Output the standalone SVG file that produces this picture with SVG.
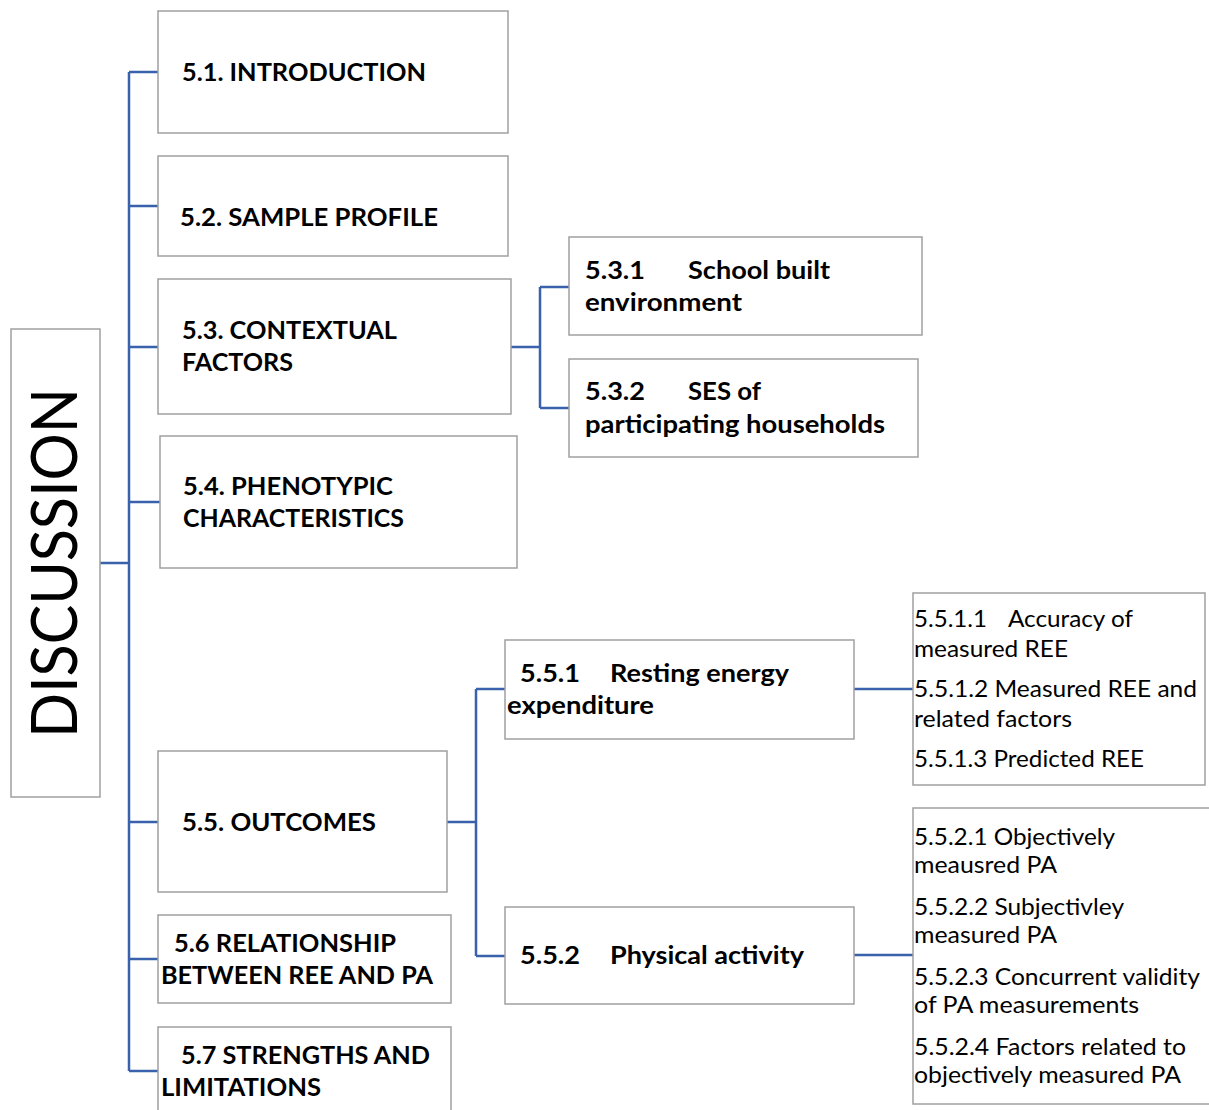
<svg xmlns="http://www.w3.org/2000/svg" width="1209" height="1110" viewBox="0 0 1209 1110">
<style>
.box{fill:#fff;stroke:#a0a0a0;stroke-width:1.5}
.b{font-family:Lato,"Open Sans","Liberation Sans",sans-serif;font-weight:bold;font-size:25px;fill:#000}
.r{font-family:Lato,"Open Sans","Liberation Sans",sans-serif;font-size:23px;fill:#000}
.c{fill:none;stroke:#3a62ac;stroke-width:2.5}
</style>
<rect width="1209" height="1110" fill="#fff"/>
<g id="connectors">
<path class="c" d="M129,72 V1071 M100,563 H129 M129,72 H158 M129,206 H158 M129,347 H158 M129,502 H160 M129,822 H158 M129,959 H158 M129,1071 H158"/>
<path class="c" d="M511,347 H540 M540,287 V408 M540,287 H569 M540,408 H569"/>
<path class="c" d="M447,822 H476 M476,689 V956 M476,689 H505 M476,956 H505"/>
<path class="c" d="M854,689 H913 M854,955 H913"/>
</g>
<g id="discussion">
<rect class="box" x="11" y="329" width="89" height="468"/>
<text transform="translate(77,563) rotate(-90)" text-anchor="middle" font-family="Lato,'Liberation Sans',sans-serif" font-weight="normal" font-size="64" textLength="350" lengthAdjust="spacingAndGlyphs">DISCUSSION</text>
</g>
<g id="n51">
<rect class="box" x="158" y="11" width="350" height="122"/>
<text class="b" x="182" y="81" textLength="244" lengthAdjust="spacingAndGlyphs">5.1. INTRODUCTION</text>
</g>
<g id="n52">
<rect class="box" x="158" y="156" width="350" height="100"/>
<text class="b" x="180" y="226" textLength="258" lengthAdjust="spacingAndGlyphs">5.2. SAMPLE PROFILE</text>
</g>
<g id="n53">
<rect class="box" x="158" y="279" width="353" height="135"/>
<text class="b" x="182" y="339" textLength="215" lengthAdjust="spacingAndGlyphs">5.3. CONTEXTUAL</text>
<text class="b" x="182" y="371" textLength="111" lengthAdjust="spacingAndGlyphs">FACTORS</text>
</g>
<g id="n54">
<rect class="box" x="160" y="436" width="357" height="132"/>
<text class="b" x="183" y="495" textLength="210" lengthAdjust="spacingAndGlyphs">5.4. PHENOTYPIC</text>
<text class="b" x="183" y="527" textLength="221" lengthAdjust="spacingAndGlyphs">CHARACTERISTICS</text>
</g>
<g id="n55">
<rect class="box" x="158" y="751" width="289" height="141"/>
<text class="b" x="182" y="831" textLength="194" lengthAdjust="spacingAndGlyphs">5.5. OUTCOMES</text>
</g>
<g id="n56">
<rect class="box" x="158" y="915" width="293" height="88"/>
<text class="b" x="174" y="952" textLength="222" lengthAdjust="spacingAndGlyphs">5.6 RELATIONSHIP</text>
<text class="b" x="161" y="984" textLength="272" lengthAdjust="spacingAndGlyphs">BETWEEN REE AND PA</text>
</g>
<g id="n57">
<rect class="box" x="158" y="1027" width="293" height="100"/>
<text class="b" x="181" y="1064" textLength="249" lengthAdjust="spacingAndGlyphs">5.7 STRENGTHS AND</text>
<text class="b" x="161" y="1096" textLength="160" lengthAdjust="spacingAndGlyphs">LIMITATIONS</text>
</g>
<g id="n531">
<rect class="box" x="569" y="237" width="353" height="98"/>
<text class="b" x="585" y="279" textLength="60" lengthAdjust="spacingAndGlyphs">5.3.1</text>
<text class="b" x="688" y="279" textLength="142" lengthAdjust="spacingAndGlyphs">School built</text>
<text class="b" x="585" y="311" textLength="157" lengthAdjust="spacingAndGlyphs">environment</text>
</g>
<g id="n532">
<rect class="box" x="569" y="359" width="349" height="98"/>
<text class="b" x="585" y="400" textLength="60" lengthAdjust="spacingAndGlyphs">5.3.2</text>
<text class="b" x="688" y="400" textLength="73" lengthAdjust="spacingAndGlyphs">SES of</text>
<text class="b" x="585" y="433" textLength="300" lengthAdjust="spacingAndGlyphs">participating households</text>
</g>
<g id="n551">
<rect class="box" x="505" y="640" width="349" height="99"/>
<text class="b" x="520" y="682" textLength="60" lengthAdjust="spacingAndGlyphs">5.5.1</text>
<text class="b" x="610" y="682" textLength="179" lengthAdjust="spacingAndGlyphs">Resting energy</text>
<text class="b" x="507" y="714" textLength="147" lengthAdjust="spacingAndGlyphs">expenditure</text>
</g>
<g id="n552">
<rect class="box" x="505" y="907" width="349" height="97"/>
<text class="b" x="520" y="964" textLength="60" lengthAdjust="spacingAndGlyphs">5.5.2</text>
<text class="b" x="610" y="964" textLength="194" lengthAdjust="spacingAndGlyphs">Physical activity</text>
</g>
<g id="list551">
<rect class="box" x="913" y="593" width="292" height="192"/>
<text class="r" x="914" y="627" textLength="73" lengthAdjust="spacingAndGlyphs">5.5.1.1</text>
<text class="r" x="1008" y="627" textLength="125" lengthAdjust="spacingAndGlyphs">Accuracy of</text>
<text class="r" x="914" y="657" textLength="154" lengthAdjust="spacingAndGlyphs">measured REE</text>
<text class="r" x="914" y="697" textLength="283" lengthAdjust="spacingAndGlyphs">5.5.1.2 Measured REE and</text>
<text class="r" x="914" y="727" textLength="158" lengthAdjust="spacingAndGlyphs">related factors</text>
<text class="r" x="914" y="767" textLength="230" lengthAdjust="spacingAndGlyphs">5.5.1.3 Predicted REE</text>
</g>
<g id="list552">
<rect class="box" x="913" y="808" width="300" height="296"/>
<text class="r" x="914" y="845" textLength="201" lengthAdjust="spacingAndGlyphs">5.5.2.1 Objectively</text>
<text class="r" x="914" y="873" textLength="143" lengthAdjust="spacingAndGlyphs">meausred PA</text>
<text class="r" x="914" y="915" textLength="210" lengthAdjust="spacingAndGlyphs">5.5.2.2 Subjectivley</text>
<text class="r" x="914" y="943" textLength="143" lengthAdjust="spacingAndGlyphs">measured PA</text>
<text class="r" x="914" y="985" textLength="286" lengthAdjust="spacingAndGlyphs">5.5.2.3 Concurrent validity</text>
<text class="r" x="914" y="1013" textLength="225" lengthAdjust="spacingAndGlyphs">of PA measurements</text>
<text class="r" x="914" y="1055" textLength="272" lengthAdjust="spacingAndGlyphs">5.5.2.4 Factors related to</text>
<text class="r" x="914" y="1083" textLength="267" lengthAdjust="spacingAndGlyphs">objectively measured PA</text>
</g>
</svg>
